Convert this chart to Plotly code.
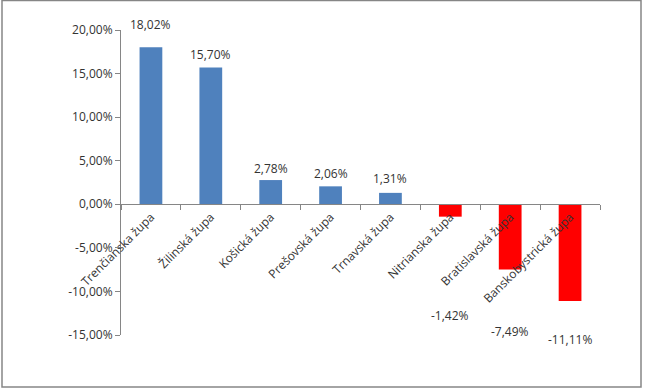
import plotly.graph_objects as go

categories = ["Trenčianska župa", "Žilinská župa", "Košická župa", "Prešovská župa",
              "Trnavská župa", "Nitrianska župa", "Bratislavská župa", "Banskobystrická župa"]
values = [18.02, 15.70, 2.78, 2.06, 1.31, -1.42, -7.49, -11.11]
value_labels = ["18,02%", "15,70%", "2,78%", "2,06%", "1,31%", "-1,42%", "-7,49%", "-11,11%"]
label_shift = [23, 13, 12, 13, 14, -99, -62, -38]
ytick_vals = [-15, -10, -5, 0, 5, 10, 15, 20]
ytick_text = ["-15,00%", "-10,00%", "-5,00%", "0,00%", "5,00%", "10,00%", "15,00%", "20,00%"]

colors = ["#4F81BD" if v >= 0 else "#FF0000" for v in values]
font_family = "Open Sans, Liberation Sans, sans-serif"
txt_color = "#333333"

fig = go.Figure(go.Bar(x=categories, y=values, marker=dict(color=colors, line=dict(width=0)),
                       hoverinfo="skip"))

ann = []
for c, v, t, s in zip(categories, values, value_labels, label_shift):
    ann.append(dict(x=c, y=v, text=t, showarrow=False, xanchor="center", yanchor="middle",
                    yshift=s, font=dict(family=font_family, size=12, color=txt_color)))

L, R, T, B = 121, 46, 30, 55
W, H = 646, 390
pw, ph = W - L - R, H - T - B

def px_x(p):
    return (p - L) / pw

def px_y(p):
    return (H - B - p) / ph

fig.update_layout(
    width=W, height=H,
    margin=dict(l=L, r=R, t=T, b=B, autoexpand=False),
    paper_bgcolor="white", plot_bgcolor="white",
    bargap=0.62,
    showlegend=False,
    annotations=ann,
    shapes=[dict(type="rect", xref="paper", yref="paper",
                 x0=px_x(2), x1=px_x(641), y0=px_y(387), y1=px_y(0.5),
                 line=dict(color="#868686", width=1.5), fillcolor="rgba(0,0,0,0)", layer="below")],
    xaxis=dict(type="category", anchor="free", position=15 / 35,
               showline=True, linecolor="#868686", linewidth=1,
               ticks="outside", ticklen=5, tickcolor="#868686", tickson="boundaries",
               tickangle=-45, showgrid=False, zeroline=False,
               tickfont=dict(family=font_family, size=12, color=txt_color)),
    yaxis=dict(range=[-15, 20], tickvals=ytick_vals, ticktext=ytick_text,
               showline=True, linecolor="#868686", linewidth=1,
               ticks="outside", ticklen=5, tickcolor="#868686",
               showgrid=False, zeroline=False,
               tickfont=dict(family=font_family, size=12, color=txt_color)),
)

fig.write_html("out.html", config={"displayModeBar": False},
               post_script="document.body.style.margin='0';document.body.style.overflow='hidden';")
